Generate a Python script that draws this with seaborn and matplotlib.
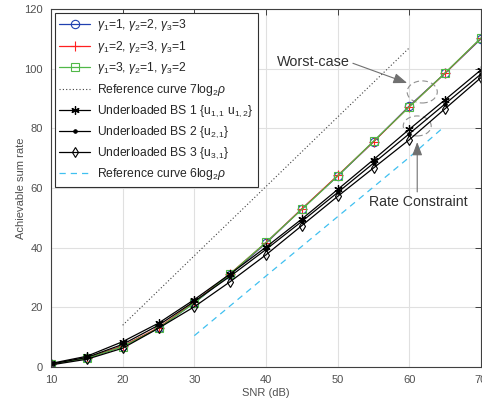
import numpy as np
import matplotlib
matplotlib.use("Agg")
from matplotlib import pyplot as plt
from matplotlib.patches import Ellipse
import seaborn as sns

# SNR points (dB)
snr = [10, 15, 20, 25, 30, 35, 40, 45, 50, 55, 60, 65, 70]

# sum rate for the three gamma orderings (almost identical curves)
rate_g123 = [1.0, 3.0, 7.0, 13.0, 21.5, 31.0, 41.5, 53.0, 64.0, 75.5, 87.5, 98.5, 110.0]
rate_g231 = [1.0, 3.0, 7.0, 13.2, 21.7, 31.3, 41.7, 53.0, 64.2, 75.5, 87.3, 98.5, 110.2]
rate_g312 = [1.0, 2.9, 6.8, 13.0, 21.5, 31.2, 41.8, 52.8, 64.0, 75.7, 87.2, 98.6, 110.3]

# underloaded base stations
rate_bs1 = [1.2, 3.6, 8.5, 14.7, 22.6, 31.2, 40.2, 49.6, 59.5, 69.5, 79.7, 89.6, 99.6]
rate_bs2 = [1.0, 3.2, 7.6, 14.0, 22.0, 30.4, 39.4, 48.8, 58.5, 68.3, 78.2, 88.2, 98.2]
rate_bs3 = [0.7, 2.6, 6.3, 13.0, 20.2, 28.6, 37.6, 47.4, 57.2, 66.7, 76.2, 86.6, 97.0]

# reference curves
ref7_snr = [20, 30, 40, 50, 60]
ref7_val = [14.0, 37.3, 60.5, 83.8, 107.0]
ref6_snr = [30, 40, 50, 60, 64.6]
ref6_val = [10.5, 30.5, 50.4, 70.3, 80.0]

sns.set_style("whitegrid")
plt.rcParams['font.family'] = ['Liberation Sans', 'DejaVu Sans']
plt.rcParams['mathtext.fontset'] = 'custom'
plt.rcParams['mathtext.rm'] = 'Liberation Sans'
plt.rcParams['mathtext.it'] = 'Liberation Sans:italic'

fig = plt.figure(figsize=(4.82, 4.05), dpi=100)
ax = fig.add_axes([51 / 482, 38 / 405, 430 / 482, 358 / 405])

lw = 0.9
ms = 6
sns.lineplot(x=snr, y=rate_g123, ax=ax, color="#2040b0", lw=lw, marker="o", ms=ms,
             markerfacecolor="none", markeredgecolor="#2040b0", markeredgewidth=0.8,
             label=r"$\gamma_1$=1, $\gamma_2$=2, $\gamma_3$=3")
sns.lineplot(x=snr, y=rate_g231, ax=ax, color="#ff2020", lw=lw, marker="+", ms=ms + 1,
             markeredgecolor="#ff2020", markeredgewidth=0.8,
             label=r"$\gamma_1$=2, $\gamma_2$=3, $\gamma_3$=1")
sns.lineplot(x=snr, y=rate_g312, ax=ax, color="#50b848", lw=lw, marker="s", ms=ms - 0.5,
             markerfacecolor="none", markeredgecolor="#50b848", markeredgewidth=0.8,
             label=r"$\gamma_1$=3, $\gamma_2$=1, $\gamma_3$=2")
sns.lineplot(x=ref7_snr, y=ref7_val, ax=ax, color="#404040", lw=0.8, linestyle=(0, (1, 2)),
             label=r"Reference curve 7log$_2$$\rho$")
sns.lineplot(x=snr, y=rate_bs1, ax=ax, color="black", lw=lw, marker=(6, 2, 0), ms=ms,
             markeredgecolor="black", markeredgewidth=0.9,
             label=r"Underloaded BS 1 {u$_{1,1}$ u$_{1,2}$}")
sns.lineplot(x=snr, y=rate_bs2, ax=ax, color="black", lw=lw, marker="o", ms=2.5,
             markerfacecolor="black", markeredgecolor="black",
             label=r"Underloaded BS 2 {u$_{2,1}$}")
sns.lineplot(x=snr, y=rate_bs3, ax=ax, color="black", lw=lw, marker="d", ms=5.5,
             markerfacecolor="none", markeredgecolor="black", markeredgewidth=0.8,
             label=r"Underloaded BS 3 {u$_{3,1}$}")
sns.lineplot(x=ref6_snr, y=ref6_val, ax=ax, color="#40c0f0", lw=0.9, linestyle=(0, (5, 4)),
             label=r"Reference curve 6log$_2$$\rho$")

ax.set_xlim(10, 70)
ax.set_ylim(0, 120)
ax.set_xticks(range(10, 71, 10))
ax.set_yticks(range(0, 121, 20))
ax.grid(True, color="#e0e0e0", lw=0.8)
for s in ax.spines.values():
    s.set_color("#404040")
    s.set_linewidth(0.8)
ax.tick_params(direction="in", length=4, width=0.7, colors="#404040", labelsize=8,
               top=True, right=True, labelcolor="#505050", pad=6)
ax.set_xlabel("SNR (dB)", fontsize=8, color="#505050")
ax.set_ylabel("Achievable sum rate", fontsize=8, color="#505050")
ax.xaxis.set_label_coords(0.5, -0.06)
ax.yaxis.set_label_coords(-0.058, 0.5)

leg = ax.legend(loc="upper left", fontsize=8.7, frameon=True, fancybox=False,
                edgecolor="#303030", framealpha=1, borderaxespad=0.3,
                handlelength=2.5, handletextpad=0.6, labelspacing=0.45, borderpad=0.4)
leg.get_frame().set_linewidth(0.8)
for t in leg.get_texts():
    t.set_color("#262626")

# worst-case / rate constraint annotations
ax.add_patch(Ellipse((61.8, 92.2), 4.2, 7.4, fill=False, ec="#909090", lw=0.8, ls=(0, (5, 3))))
ax.add_patch(Ellipse((61.1, 80.8), 3.9, 6.7, fill=False, ec="#909090", lw=0.8, ls=(0, (5, 3))))
ax.annotate("Worst-case", xy=(59.7, 95.2), xytext=(41.5, 102.2), fontsize=10.4, color="#303030",
            va="center", ha="left",
            arrowprops=dict(arrowstyle="-|>,head_length=0.8,head_width=0.3", color="#707070", lw=0.8,
                            shrinkA=0, shrinkB=0, relpos=(1, 0.5)))
ax.annotate("", xy=(61.1, 75.4), xytext=(61.1, 58.7),
            arrowprops=dict(arrowstyle="-|>,head_length=0.8,head_width=0.3", color="#707070", lw=0.8,
                            shrinkA=0, shrinkB=0))
ax.text(61.3, 55.3, "Rate Constraint", fontsize=10.2, color="#303030", ha="center", va="center")

plt.savefig("out.png", dpi=100)
plt.close()
